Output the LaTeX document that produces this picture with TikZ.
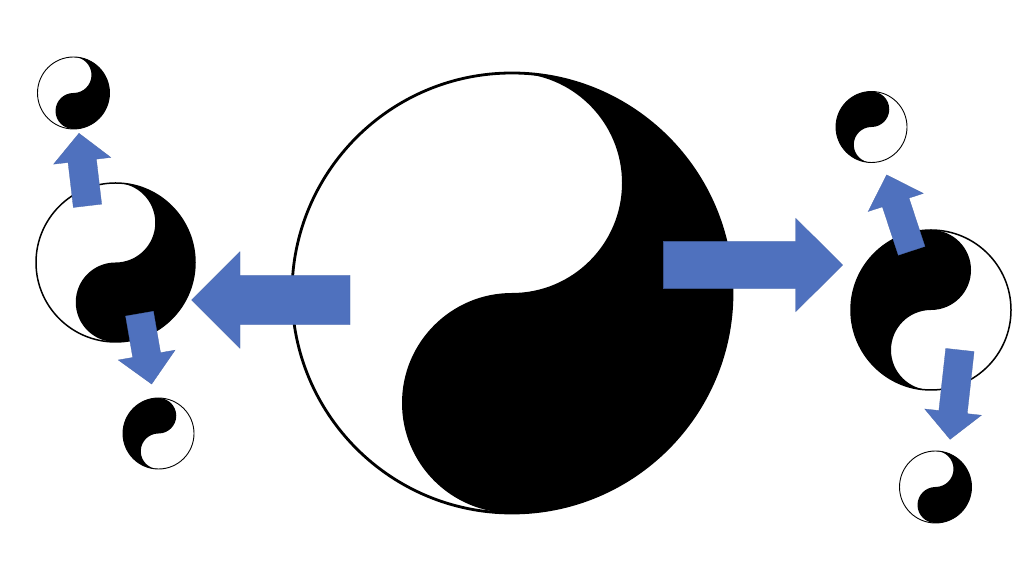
\documentclass[tikz,border=0pt]{standalone}
\definecolor{arrowblue}{HTML}{4F71BE}
\tikzset{
  yyfill/.style={fill=black},
  yyline/.style={draw=black},
  blockarrowstyle/.style={fill=arrowblue, draw=arrowblue!90!black, line width=0.3pt, line join=miter}
}
% #1 x, #2 y, #3 radius, #4 rotation, #5 outline width
\newcommand{\yinyang}[5]{%
  \begin{scope}[shift={(#1,#2)},rotate=#4]
    \fill[yyfill] (0,#3) arc[start angle=90,end angle=-90,radius=#3]
      arc[start angle=-90,end angle=-270,radius=#3/2]
      arc[start angle=-90,end angle=90,radius=#3/2] -- cycle;
    \draw[yyline,line width=#5] (0,0) circle[radius=#3];
  \end{scope}}
% #1 x, #2 y (base), #3 angle, #4 length, #5 body half width, #6 head length, #7 head half width
\newcommand{\blockarrow}[7]{%
  \begin{scope}[shift={(#1,#2)},rotate=#3]
    \filldraw[blockarrowstyle] (0,-#5) -- ({#4-#6},-#5) -- ({#4-#6},-#7) -- (#4,0)
      -- ({#4-#6},#7) -- ({#4-#6},#5) -- (0,#5) -- cycle;
  \end{scope}}
\begin{document}
\begin{tikzpicture}[x=1pt,y=1pt]
\useasboundingbox[fill=white] (0,0) rectangle (1024,577);
% yin-yang symbols
\coordinate (big) at (512,284);
\yinyang{512}{284}{220}{0}{2.8pt}
\coordinate (lmid) at (115.5,314.5);
\yinyang{115.5}{314.5}{79.5}{0}{1.5pt}
\coordinate (ltop) at (73.5,484);
\yinyang{73.5}{484}{36}{0}{0.9pt}
\coordinate (lbot) at (158.5,143.5);
\yinyang{158.5}{143.5}{35.5}{180}{0.9pt}
\coordinate (rtop) at (871.5,450);
\yinyang{871.5}{450}{35.5}{180}{0.9pt}
\coordinate (rmid) at (931,267);
\yinyang{931}{267}{80}{180}{1.5pt}
\coordinate (rbot) at (935.5,90);
\yinyang{935.5}{90}{36}{0}{0.9pt}
% block arrows
\blockarrow{350}{277}{180}{158.3}{24.7}{48.3}{48.3}
\blockarrow{663.3}{312}{0}{179.4}{23.7}{47}{46.7}
\blockarrow{87.5}{371.2}{96.7}{73}{14.25}{27.7}{28.8}
\blockarrow{139.5}{263.3}{-80.2}{71.4}{14.1}{29.4}{28.8}
\blockarrow{911.6}{326.2}{108.2}{79.9}{14}{29}{29}
\blockarrow{959.9}{227}{-96.3}{89.9}{14.25}{27.4}{28.5}
\end{tikzpicture}
\end{document}
